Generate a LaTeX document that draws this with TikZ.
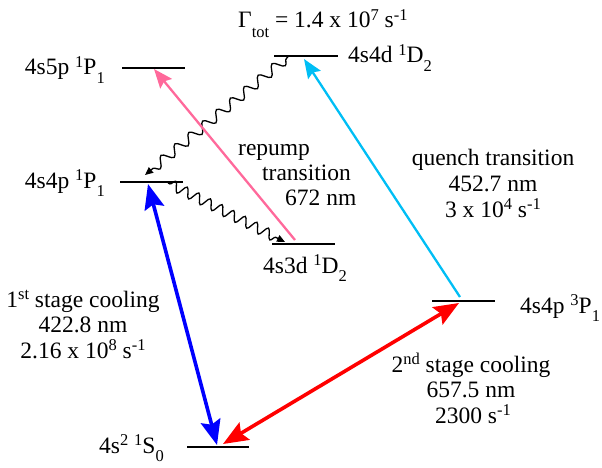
\documentclass[tikz,border=0pt]{standalone}
\usepackage{fontspec}
\setmainfont{Liberation Serif}
\newfontfamily\labelfont{Liberation Serif}
\usetikzlibrary{arrows.meta,decorations.pathmorphing}

\definecolor{repumppink}{RGB}{255,105,155}
\definecolor{quenchcyan}{RGB}{0,190,245}

% raised / lowered term indices
\newcommand{\levup}[1]{\raisebox{0.34em}{\fontsize{16.5}{16.5}\selectfont #1}}
\newcommand{\levdn}[1]{\raisebox{-0.36em}{\fontsize{16.5}{16.5}\selectfont #1}}

\begin{document}
\begin{tikzpicture}[x=1pt, y=-1pt,
  every node/.style={font=\labelfont\fontsize{23.5}{25}\selectfont, inner sep=0pt},
  level/.style={line width=1.6pt},
  cool/.style={line width=3.6pt, {Stealth[length=25pt,width=20pt,inset=4pt]}-{Stealth[length=25pt,width=20pt,inset=4pt]}},
  laser/.style={line width=2.3pt, -{Stealth[length=19pt,width=15pt,inset=3pt]}},
  decay/.style={line width=1.3pt, -{Triangle[length=8pt,width=7pt]}, decorate,
    decoration={snake, amplitude=5pt, segment length=#1, pre length=2pt, post length=6pt}}]

\useasboundingbox (0,0) rectangle (602,468);

% Energy levels
\draw[level] (122,68) -- (185,68);   % 4s5p 1P1
\draw[level] (274,56) -- (338,56);   % 4s4d 1D2
\draw[level] (120,182) -- (183,182); % 4s4p 1P1
\draw[level] (272,244) -- (335,244); % 4s3d 1D2
\draw[level] (432,301) -- (495,301); % 4s4p 3P1
\draw[level] (187,447) -- (249,447); % 4s2 1S0

% Arrow end points on the levels
\coordinate (gndA) at (217,445);
\coordinate (gndB) at (223,444);
\coordinate (sngP) at (148,184);
\coordinate (sngPin) at (145,175);
\coordinate (sngPout) at (168,183);
\coordinate (tripP) at (459,303);
\coordinate (tripPup) at (460,297);
\coordinate (upD) at (304,59);
\coordinate (upDout) at (288,57);
\coordinate (lowD) at (295,240);
\coordinate (lowDin) at (285,242);
\coordinate (upP) at (154,69);

% Spontaneous decays
\draw[decay=18pt] (upDout) -- (sngPin);
\draw[decay=13pt] (sngPout) -- (lowDin);

% Laser transitions
\draw[laser, repumppink] (lowD) -- (upP);
\draw[laser, quenchcyan] (tripPup) -- (upD);
\draw[cool, blue] (gndA) -- (sngP);
\draw[cool, red] (gndB) -- (tripP);

% Level labels
\node[anchor=base east] (lab5p) at (105,75) {4s5p \levup{1}P\levdn{1}};
\node[anchor=base east] (lab4p) at (105,188) {4s4p \levup{1}P\levdn{1}};
\node[anchor=base west] (lab4d) at (348,63) {4s4d \levup{1}D\levdn{2}};
\node[anchor=base] (lab3d) at (305,273) {4s3d \levup{1}D\levdn{2}};
\node[anchor=base west] (lab3p) at (520,313) {4s4p \levup{3}P\levdn{1}};
\node[anchor=base east] (labgs) at (164,453) {4s\levup{2} \levup{1}S\levdn{0}};

% Decay rate
\node[anchor=base west] (gamma) at (238,28) {Γ\raisebox{-0.42em}{\fontsize{16.5}{16.5}\selectfont tot} = 1.4 x 10\levup{7} s\levup{-1}};

% Transition labels
\node[anchor=base west] (rep1) at (238,155) {repump};
\node[anchor=base west] (rep2) at (262,180) {transition};
\node[anchor=base west] (rep3) at (285,205) {672 nm};

\node[anchor=base] (qu1) at (493,165) {quench transition};
\node[anchor=base] (qu2) at (493,191) {452.7 nm};
\node[anchor=base] (qu3) at (493,217) {3 x 10\levup{4} s\levup{-1}};

\node[anchor=base] (fst1) at (83,307) {1\levup{st} stage cooling};
\node[anchor=base] (fst2) at (83,332) {422.8 nm};
\node[anchor=base] (fst3) at (83,358) {2.16 x 10\levup{8} s\levup{-1}};

\node[anchor=base] (snd1) at (471,372) {2\levup{nd} stage cooling};
\node[anchor=base] (snd2) at (471,397) {657.5 nm};
\node[anchor=base] (snd3) at (473,423) {2300 s\levup{-1}};

\end{tikzpicture}
\end{document}
